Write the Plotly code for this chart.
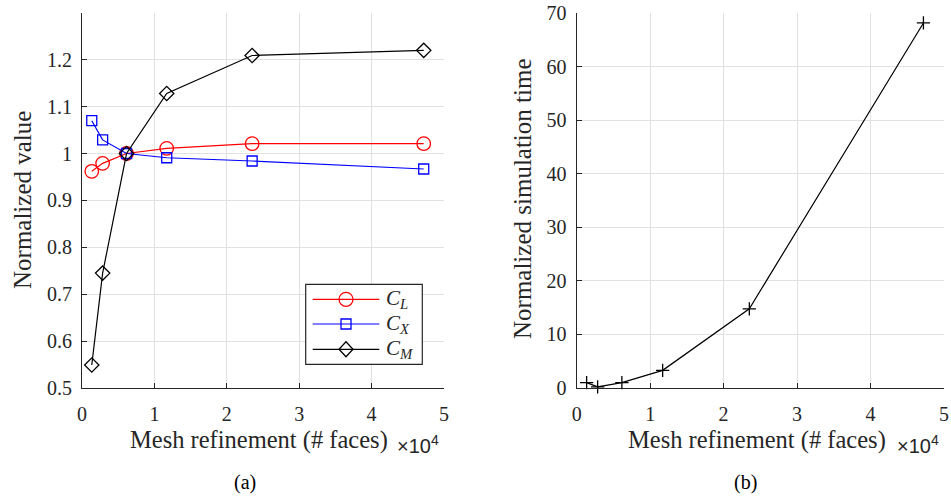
import plotly.graph_objects as go

# Mesh sizes (number of faces) and normalized results
faces = [1350, 2850, 6150, 11700, 23500, 47200]
c_l = [0.962, 0.979, 1.000, 1.011, 1.021, 1.021]
c_x = [1.070, 1.029, 1.000, 0.991, 0.984, 0.967]
c_m = [0.549, 0.745, 1.000, 1.128, 1.209, 1.220]
sim_time = [1.0, 0.2, 1.0, 3.3, 14.8, 68.2]

x_tickvals = [0, 10000, 20000, 30000, 40000, 50000]
x_ticktext = ["0", "1", "2", "3", "4", "5"]
y1_tickvals = [0.5, 0.6, 0.7, 0.8, 0.9, 1.0, 1.1, 1.2]
y1_ticktext = ["0.5", "0.6", "0.7", "0.8", "0.9", "1", "1.1", "1.2"]
y2_tickvals = [0, 10, 20, 30, 40, 50, 60, 70]

W, H = 951, 498
SERIF = "Liberation Serif"
SANS = "Liberation Sans"
AX = "#262626"
GRID = "#e1e1e1"


def px(x):
    return x / W


def py(y):
    return 1 - y / H


series = [
    ("C_L", c_l, "#ff0000", "circle-open", 13.5),
    ("C_X", c_x, "#0000ff", "square-open", 10),
    ("C_M", c_m, "#000000", "diamond-open", 11),
]

fig = go.Figure()
for name, vals, color, sym, size in series:
    fig.add_trace(go.Scatter(
        x=faces, y=vals, mode="lines+markers", name=name,
        line=dict(color=color, width=1.2),
        marker=dict(symbol=sym, size=size, color=color, line=dict(width=1.3, color=color)),
        cliponaxis=False, showlegend=False, xaxis="x", yaxis="y",
    ))

fig.add_trace(go.Scatter(
    x=faces, y=sim_time, mode="lines+markers", name="time",
    line=dict(color="#000000", width=1.2),
    marker=dict(symbol="cross-thin", size=9.5, color="#000000", line=dict(width=1.3, color="#000000")),
    cliponaxis=False, showlegend=False, xaxis="x2", yaxis="y2",
))

axis_common = dict(
    showline=True, linecolor=AX, linewidth=1.2, ticks="inside", ticklen=5,
    tickwidth=1, tickcolor=AX, showgrid=True, gridcolor=GRID, gridwidth=1,
    zeroline=False, automargin=False, tickfont=dict(family=SERIF, size=20, color=AX),
)

yd = [py(388), py(13.3)]
fig.update_layout(
    width=W, height=H,
    margin=dict(l=0, r=0, t=0, b=0, pad=0, autoexpand=False),
    paper_bgcolor="white", plot_bgcolor="white",
    showlegend=False,
    xaxis=dict(domain=[px(82), px(444)], range=[0, 50000], tickvals=x_tickvals,
               ticktext=x_ticktext, anchor="y", ticklabelstandoff=8, **axis_common),
    yaxis=dict(domain=yd, range=[0.5, 1.299], tickvals=y1_tickvals, ticktext=y1_ticktext,
               anchor="x", ticklabelstandoff=5, **axis_common),
    xaxis2=dict(domain=[px(576.7), px(944)], range=[0, 50000], tickvals=x_tickvals,
                ticktext=x_ticktext, anchor="y2", ticklabelstandoff=8, **axis_common),
    yaxis2=dict(domain=yd, range=[0, 70], tickvals=y2_tickvals, anchor="x2",
                ticklabelstandoff=5, **axis_common),
)

ann = []
title_font = dict(family=SERIF, size=25, color=AX)
xtitle_font = dict(family=SERIF, size=24.5, color=AX)
ann.append(dict(x=px(22), y=py(200), text="Normalized value", textangle=-90, font=title_font))
ann.append(dict(x=px(522), y=py(199), text="Normalized simulation time", textangle=-90, font=title_font))
ann.append(dict(x=px(259), y=py(440), text="Mesh refinement (# faces)", font=xtitle_font))
ann.append(dict(x=px(757), y=py(440), text="Mesh refinement (# faces)", font=xtitle_font))
for x0 in (395, 895):
    ann.append(dict(x=px(x0), y=py(444), xanchor="left", text="×10<sup>4</sup>",
                    font=dict(family=SANS, size=20, color=AX)))
ann.append(dict(x=px(245), y=py(482), text="(a)", font=dict(family=SERIF, size=20, color="#000000")))
ann.append(dict(x=px(745), y=py(482), text="(b)", font=dict(family=SERIF, size=20, color="#000000")))

# Legend for the coefficients panel
shapes = [dict(type="rect", xref="paper", yref="paper", x0=px(305.7), x1=px(422.3),
               y0=py(364.3), y1=py(284.3), line=dict(color=AX, width=1.2), fillcolor="white",
               layer="above")]
rows = [299.3, 324.0, 349.3]
labels = ["<i>C</i><sub><i>L</i></sub>", "<i>C</i><sub><i>X</i></sub>", "<i>C</i><sub><i>M</i></sub>"]
mx = 346
for (name, vals, color, sym, size), ry, lab in zip(series, rows, labels):
    shapes.append(dict(type="line", xref="paper", yref="paper", x0=px(312.7), x1=px(379.3),
                       y0=py(ry), y1=py(ry), line=dict(color=color, width=1.2), layer="above"))
    if sym.startswith("circle"):
        shapes.append(dict(type="circle", xref="paper", yref="paper", x0=px(mx - 7), x1=px(mx + 7),
                           y0=py(ry + 7), y1=py(ry - 7), line=dict(color=color, width=1.3),
                           fillcolor="rgba(0,0,0,0)", layer="above"))
    elif sym.startswith("square"):
        shapes.append(dict(type="rect", xref="paper", yref="paper", x0=px(mx - 5), x1=px(mx + 5),
                           y0=py(ry + 5), y1=py(ry - 5), line=dict(color=color, width=1.3),
                           fillcolor="rgba(0,0,0,0)", layer="above"))
    else:
        path = (f"M{px(mx)},{py(ry - 7.5)} L{px(mx + 7)},{py(ry)} "
                f"L{px(mx)},{py(ry + 7.5)} L{px(mx - 7)},{py(ry)} Z")
        shapes.append(dict(type="path", xref="paper", yref="paper", path=path,
                           line=dict(color=color, width=1.3), fillcolor="rgba(0,0,0,0)", layer="above"))
    ann.append(dict(x=px(384), y=py(ry), xanchor="left", text=lab,
                    font=dict(family=SERIF, size=21, color=AX)))

for a in ann:
    a.setdefault("xref", "paper")
    a.setdefault("yref", "paper")
    a.setdefault("showarrow", False)
    a.setdefault("xanchor", "center")
    a.setdefault("yanchor", "middle")
fig.update_layout(annotations=ann, shapes=shapes)

fig.write_html("out.html")
